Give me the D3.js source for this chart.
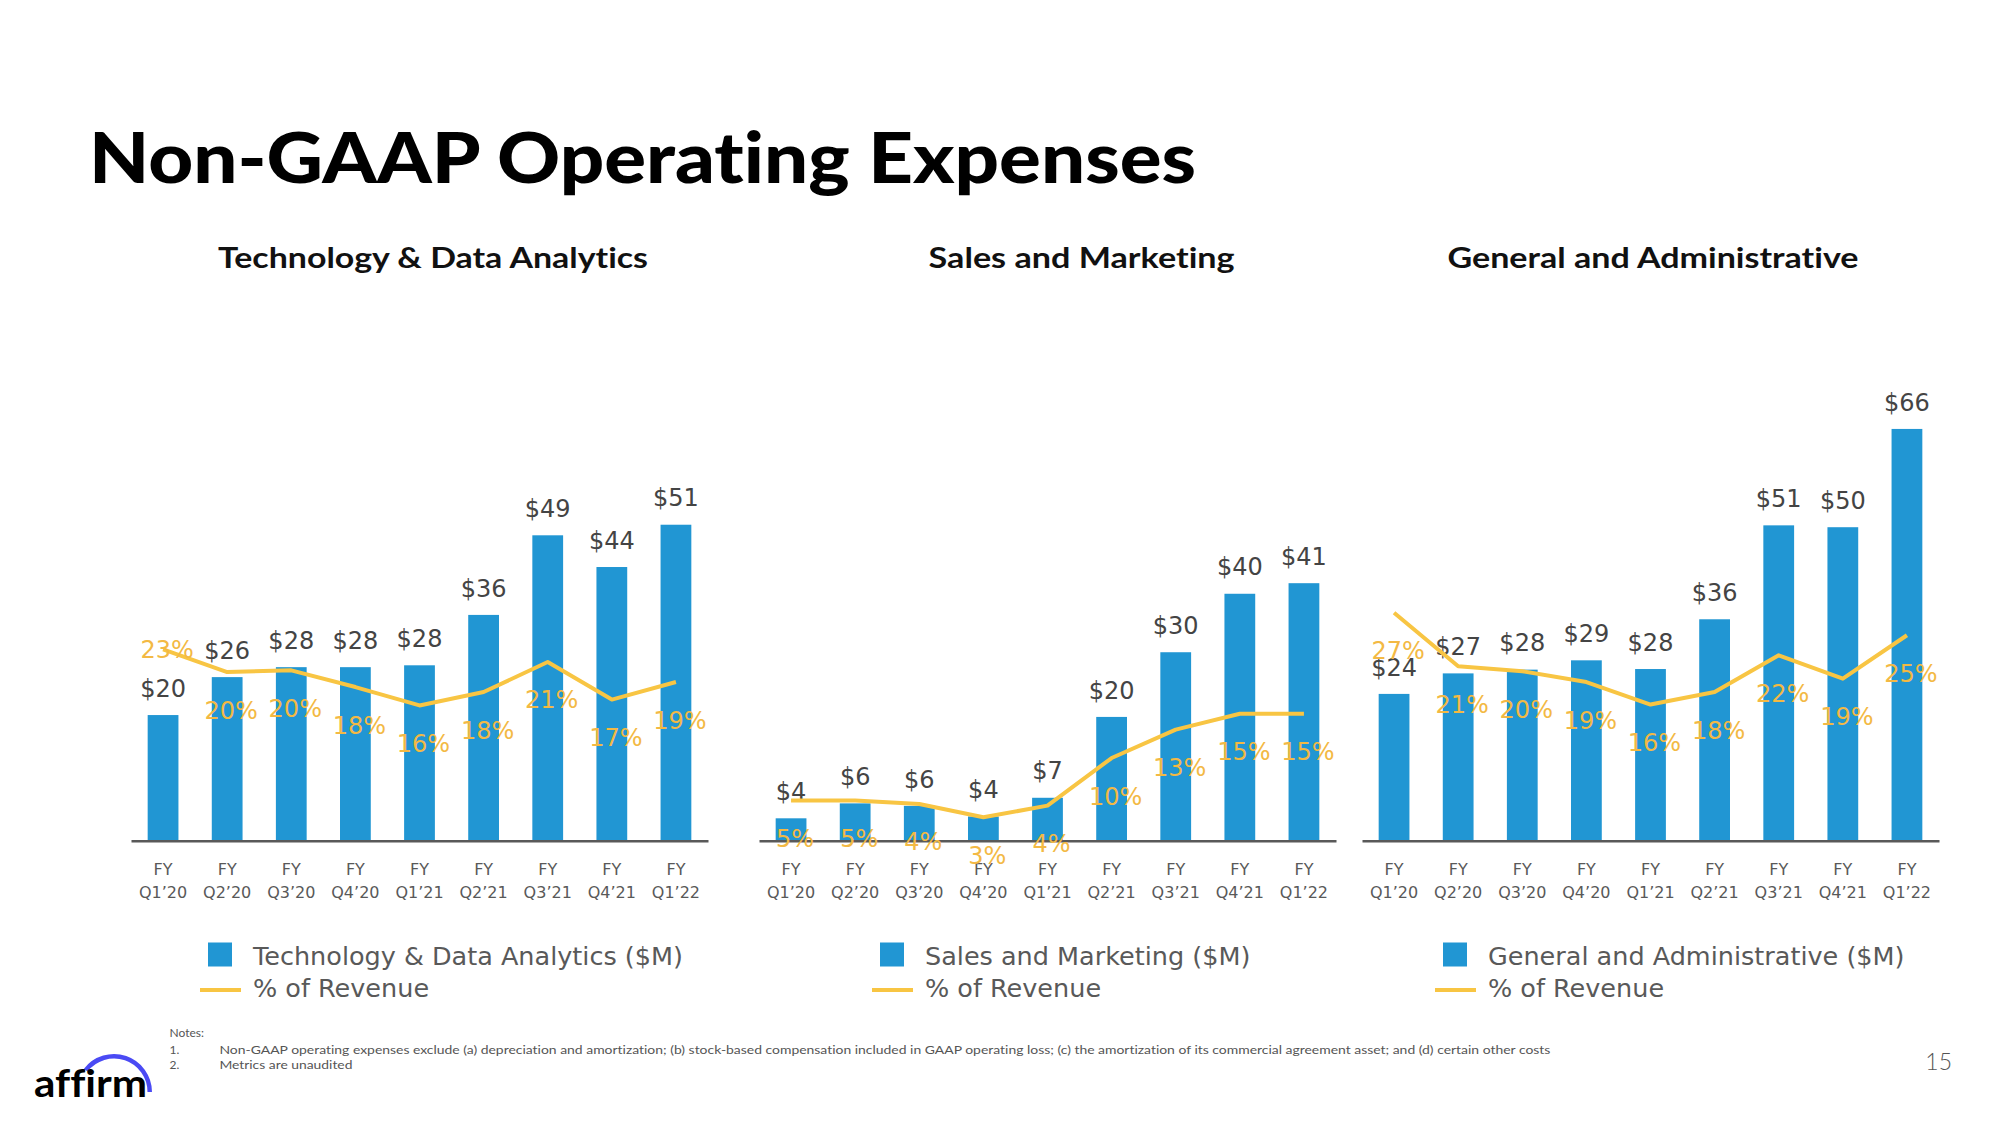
<!DOCTYPE html>
<html>
<head>
<meta charset="utf-8">
<script src="https://cdn.jsdelivr.net/npm/d3@7"></script>
<style>
  html, body { margin: 0; padding: 0; background: #ffffff; }
  svg { display: block; }
  text { font-variant-ligatures: none; font-feature-settings: "liga" 0, "clig" 0; }
</style>
</head>
<body>
<svg id="chart" width="2000" height="1125"></svg>
<script>
// ---------------- DATA ----------------
const categories = ["Q1’20", "Q2’20", "Q3’20", "Q4’20", "Q1’21", "Q2’21", "Q3’21", "Q4’21", "Q1’22"];
const categoryPrefix = "FY";

const techValues  = [20.2, 26.3, 27.9, 27.9, 28.2, 36.3, 49.1, 44.0, 50.8];
const techPct     = [22.9, 20.2, 20.4, 18.4, 16.2, 17.8, 21.4, 16.9, 19.0];

const salesValues = [3.6, 6.0, 5.6, 3.9, 6.9, 19.9, 30.3, 39.7, 41.4];
const salesPct    = [4.8, 4.8, 4.4, 2.8, 4.2, 9.9, 13.3, 15.2, 15.2];

const gaValues    = [23.6, 26.9, 27.5, 29.0, 27.6, 35.6, 50.7, 50.4, 66.2];
const gaPct       = [27.3, 20.9, 20.3, 19.0, 16.3, 17.8, 22.2, 19.4, 24.6];

const panelTitles  = ["Technology & Data Analytics", "Sales and Marketing", "General and Administrative"];
const legendLabels = ["Technology & Data Analytics ($M)", "Sales and Marketing ($M)", "General and Administrative ($M)"];
const lineLegendLabel = "% of Revenue";

const pageTitle = "Non-GAAP Operating Expenses";
const notesHeader = "Notes:";
const notes = [
  "Non-GAAP operating expenses exclude (a) depreciation and amortization; (b) stock-based compensation included in GAAP operating loss; (c) the amortization of its commercial agreement asset; and (d) certain other costs",
  "Metrics are unaudited"
];
const pageNumber = "15";

// ---------------- STYLE / LAYOUT ----------------
const BAR_COLOR = "#2196D3";
const LINE_COLOR = "#F8C543";
const PCT_LABEL_COLOR = "#F3B944";
const VALUE_LABEL_COLOR = "#444444";
const AXIS_COLOR = "#595959";
const DATA_FONT = "'DejaVu Sans', sans-serif";
const HEAD_FONT = "Lato, 'Open Sans', sans-serif";

const baseline = 840.7;
const plotH = 435.4;
const barMax = 70;
const pctMax = 52.14;

const panels = [
  { values: techValues,  pct: techPct,   x0: 131,  x1: 708,  titleCx: 433,    titleLen: 430, legendX: 208, centerFirstPct: true },
  { values: salesValues, pct: salesPct,  x0: 759,  x1: 1336, titleCx: 1081.6, titleLen: 306, legendX: 880, centerFirstPct: false },
  { values: gaValues,    pct: gaPct,     x0: 1362, x1: 1939, titleCx: 1653,   titleLen: 411, legendX: 1443, centerFirstPct: false }
];

const svg = d3.select("#chart");

// Page title
svg.append("text")
  .attr("x", 89).attr("y", 183)
  .attr("font-family", HEAD_FONT).attr("font-weight", 900)
  .attr("font-size", 71).attr("fill", "#000")
  .attr("textLength", 1107).attr("lengthAdjust", "spacingAndGlyphs")
  .text(pageTitle);

const y = d3.scaleLinear().domain([0, barMax]).range([baseline, baseline - plotH]);
const yPct = d3.scaleLinear().domain([0, pctMax]).range([baseline, baseline - plotH]);

panels.forEach((p, i) => {
  const g = svg.append("g");

  g.append("text")
    .attr("x", p.titleCx - p.titleLen / 2).attr("y", 268)
    .attr("font-family", HEAD_FONT).attr("font-weight", 700)
    .attr("font-size", 28).attr("fill", "#111")
    .attr("textLength", p.titleLen).attr("lengthAdjust", "spacingAndGlyphs")
    .text(panelTitles[i]);

  const x = d3.scaleBand().domain(categories).range([p.x0, p.x1])
    .paddingInner(0.52).paddingOuter(0.26);

  g.selectAll("rect.bar").data(p.values).enter().append("rect")
    .attr("class", "bar")
    .attr("x", (d, k) => x(categories[k]))
    .attr("width", x.bandwidth())
    .attr("y", d => y(d))
    .attr("height", d => baseline - y(d))
    .attr("fill", BAR_COLOR);

  const axis = d3.axisBottom(x).tickSize(0).tickSizeOuter(0);
  const ag = g.append("g").attr("transform", `translate(0,${baseline})`).call(axis);
  ag.select(".domain").attr("stroke", AXIS_COLOR).attr("stroke-width", 2.6);
  ag.selectAll(".tick text").each(function(d) {
    const t = d3.select(this);
    t.text(null).attr("y", null).attr("dy", null)
      .attr("font-family", DATA_FONT).attr("font-size", 16).attr("fill", AXIS_COLOR);
    t.append("tspan").attr("x", 0).attr("y", 34.3).text(categoryPrefix);
    t.append("tspan").attr("x", 0).attr("y", 57).text(d);
  });

  g.selectAll("text.val").data(p.values).enter().append("text")
    .attr("class", "val")
    .attr("x", (d, k) => x(categories[k]) + x.bandwidth() / 2)
    .attr("y", d => y(d) - 18.3)
    .attr("text-anchor", "middle")
    .attr("font-family", DATA_FONT).attr("font-size", 24)
    .attr("fill", VALUE_LABEL_COLOR)
    .text(d => "$" + Math.round(d));

  const line = d3.line()
    .x((d, k) => x(categories[k]) + x.bandwidth() / 2)
    .y(d => yPct(d));
  g.append("path").datum(p.pct)
    .attr("d", line)
    .attr("fill", "none")
    .attr("stroke", LINE_COLOR).attr("stroke-width", 4)
    .attr("stroke-linejoin", "round").attr("stroke-linecap", "butt");

  g.selectAll("text.pct").data(p.pct).enter().append("text")
    .attr("class", "pct")
    .attr("x", (d, k) => x(categories[k]) + x.bandwidth() / 2 + 4)
    .attr("y", (d, k) => yPct(d) + ((k === 0 && p.centerFirstPct) ? 9 : 46.5))
    .attr("text-anchor", "middle")
    .attr("font-family", DATA_FONT).attr("font-size", 24)
    .attr("fill", PCT_LABEL_COLOR)
    .text(d => Math.round(d) + "%");

  const lg = g.append("g");
  lg.append("rect").attr("x", p.legendX).attr("y", 942.5).attr("width", 24).attr("height", 24)
    .attr("fill", BAR_COLOR);
  lg.append("line").attr("x1", p.legendX - 8).attr("x2", p.legendX + 33)
    .attr("y1", 990).attr("y2", 990)
    .attr("stroke", LINE_COLOR).attr("stroke-width", 4);
  lg.append("text").attr("x", p.legendX + 45).attr("y", 965)
    .attr("font-family", DATA_FONT).attr("font-size", 25.5).attr("fill", AXIS_COLOR)
    .text(legendLabels[i]);
  lg.append("text").attr("x", p.legendX + 45).attr("y", 996.7)
    .attr("font-family", DATA_FONT).attr("font-size", 25.5).attr("fill", AXIS_COLOR)
    .text(lineLegendLabel);
});

// Notes
const ng = svg.append("g").attr("font-family", HEAD_FONT).attr("fill", "#555");
ng.append("text").attr("x", 169.6).attr("y", 1036.5).attr("font-size", 12).text(notesHeader);
notes.forEach((n, i) => {
  ng.append("text").attr("x", 169.6).attr("y", 1053.5 + i * 15.5).attr("font-size", 12).text((i + 1) + ".");
  const t = ng.append("text").attr("x", 219.4).attr("y", 1053.5 + i * 15.5).attr("font-size", 12).text(n);
  const target = i === 0 ? 1331 : 133;
  t.attr("textLength", target).attr("lengthAdjust", "spacingAndGlyphs");
});

// Page number
svg.append("text").attr("x", 1952).attr("y", 1070).attr("text-anchor", "end")
  .attr("font-family", HEAD_FONT).attr("font-weight", 300).attr("font-size", 23).attr("fill", "#555")
  .text(pageNumber);

// Affirm logo
const logo = svg.append("g");
logo.append("path")
  .attr("d", d3.arc()({ innerRadius: 33.5, outerRadius: 38, startAngle: -Math.PI * 0.29, endAngle: Math.PI / 2 }))
  .attr("transform", "translate(114,1092)")
  .attr("fill", "#4A4AF4");
logo.append("text").attr("x", 34).attr("y", 1097)
  .attr("font-family", HEAD_FONT).attr("font-weight", 700).attr("font-size", 38)
  .attr("fill", "#000")
  .attr("textLength", 113).attr("lengthAdjust", "spacingAndGlyphs")
  .text("affirm");
</script>
</body>
</html>
